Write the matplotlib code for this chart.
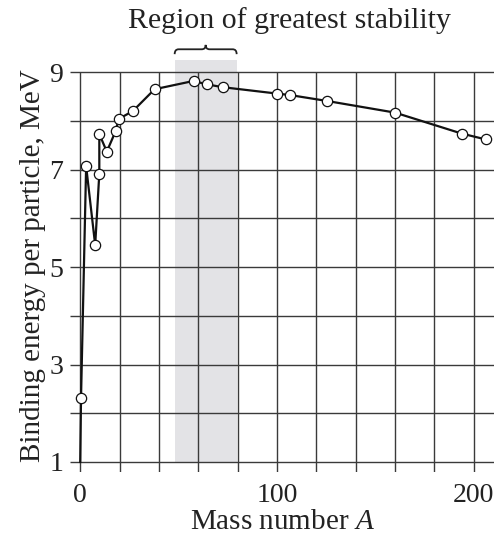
import matplotlib
matplotlib.use("Agg")
import matplotlib.pyplot as plt
from matplotlib.path import Path
from matplotlib.patches import PathPatch

# Data
mass_number = [0.0, 0.4, 3.0, 7.6, 9.7, 9.7, 13.5, 18.1, 19.5, 26.7, 37.8,
               57.6, 64.3, 72.8, 100.2, 106.7, 125.3, 160.0, 193.9, 206.1]
binding_energy = [1.0, 2.31, 7.07, 5.45, 6.92, 7.73, 7.37, 7.80, 8.04, 8.20, 8.65,
                  8.82, 8.75, 8.69, 8.56, 8.53, 8.41, 8.17, 7.74, 7.62]
has_marker = [False] + [True] * 19

x_ticks = [0, 100, 200]
y_ticks = [1, 3, 5, 7, 9]
x_grid = list(range(0, 201, 20))
y_grid = list(range(1, 10))
stable_region = (48, 79.5)
title_text = "Region of greatest stability"
xlabel = "Mass number "
ylabel = "Binding energy per particle, MeV"

plt.rcParams['font.family'] = ['Liberation Serif', 'DejaVu Serif']
plt.rcParams['mathtext.fontset'] = 'custom'
plt.rcParams['mathtext.rm'] = 'Liberation Serif'
plt.rcParams['mathtext.it'] = 'Liberation Serif:italic'

fig = plt.figure(figsize=(4.94, 5.38), dpi=100)
ax = fig.add_axes([70/494, 1 - 471.7/538, 1 - 70/494, (471.7 - 60)/538])
xmin, xmax = -5.2, 210.3
ymin, ymax = 0.8, 9.25
ax.set_xlim(xmin, xmax)
ax.set_ylim(ymin, ymax)
for s in ax.spines.values():
    s.set_visible(False)

# shaded region
ax.fill_between(stable_region, [1, 1], [ymax, ymax], color='#e3e3e6', zorder=0, lw=0)

# grid
ax.hlines(y_grid, xmin, xmax, colors='#3a3a3a', lw=1.0, zorder=1)
ax.vlines(x_grid, ymin, 9, colors='#3a3a3a', lw=1.0, zorder=1)

# curve
ax.plot(mass_number, binding_energy, color='#111111', lw=1.6, zorder=3)
mx = [x for x, m in zip(mass_number, has_marker) if m]
my = [y for y, m in zip(binding_energy, has_marker) if m]
ax.plot(mx, my, ls='none', marker='o', ms=7.4, mfc='white', mec='#111111', mew=0.9, zorder=4)

ax.set_xticks(x_ticks)
ax.set_yticks(y_ticks)
ax.tick_params(length=0, labelsize=20, colors='#222222')
ax.tick_params(axis='x', pad=8)
ax.tick_params(axis='y', pad=5)
ax.set_xlabel(xlabel + r"$\mathit{A}$", fontsize=21, color='#222222', labelpad=1)
ax.set_ylabel(ylabel, fontsize=21, color='#222222', labelpad=2)

# brace above region
x0, x1 = stable_region
xc = (x0 + x1) / 2
yb, yf, yt = 9.37, 9.47, 9.56
verts = [(x0, yb),
         (x0, yf), (x0 + 2, yf),
         (xc - 2, yf),
         (xc, yf), (xc, yt),
         (xc, yf), (xc + 2, yf),
         (x1 - 2, yf),
         (x1, yf), (x1, yb)]
codes = [Path.MOVETO,
         Path.CURVE3, Path.CURVE3,
         Path.LINETO,
         Path.CURVE3, Path.CURVE3,
         Path.CURVE3, Path.CURVE3,
         Path.LINETO,
         Path.CURVE3, Path.CURVE3]
ax.add_patch(PathPatch(Path(verts, codes), fc='none', ec='#222222', lw=1.3, clip_on=False))

fig.text(289/494, 1 - 21/538, title_text, fontsize=21.5, color='#222222', ha='center', va='center')

fig.savefig("out.png", dpi=100)
